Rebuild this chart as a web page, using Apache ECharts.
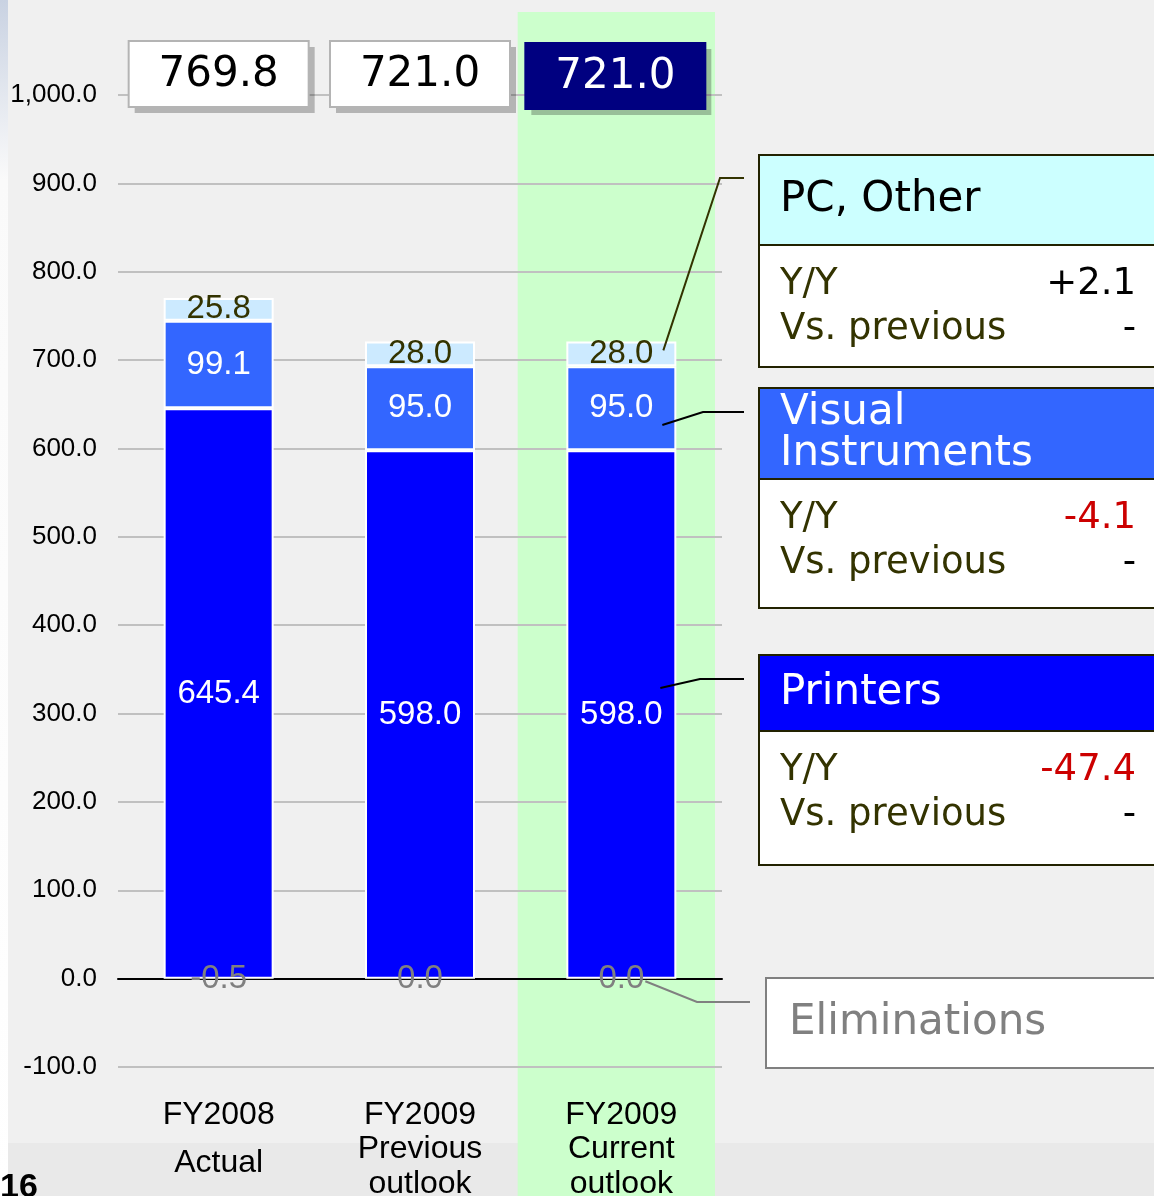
<!DOCTYPE html>
<html lang="en">
<head>
    <meta charset="UTF-8">
    <title>Sales by segment</title>
    <style>
        html, body { margin: 0; padding: 0; background: #f0f0f0; }
    </style>
</head>
<body>
<div id="main" style="width: 1154px;height:1196px;"></div>
<script src="https://cdn.jsdelivr.net/npm/echarts@6/dist/echarts.min.js"></script>
<script>
    // data
    var categories = ['FY2008\nActual', 'FY2009\nPrevious\noutlook', 'FY2009\nCurrent\noutlook'];
    var eliminations = [-0.5, 0.0, 0.0];
    var printers = [645.4, 598.0, 598.0];
    var visual = [99.1, 95.0, 95.0];
    var pcOther = [25.8, 28.0, 28.0];
    var segmentNames = ['PC, Other', 'Visual\nInstruments', 'Printers'];
    var segmentYoY = ['+2.1', '-4.1', '-47.4'];
    var segmentVsPrev = ['-', '-', '-'];

    var totals = categories.map(function (c, i) {
        return (eliminations[i] + printers[i] + visual[i] + pcOther[i]).toFixed(1);
    });

    var myChart = echarts.init(document.getElementById('main'));

    var barLabel = function (color) {
        return {
            show: true,
            position: 'inside',
            color: color,
            fontSize: 33,
            fontFamily: 'Liberation Sans, Arial',
            formatter: function (p) { return p.value.toFixed(1); }
        };
    };

    var catFont = 'Liberation Sans, Arial';

    var option = {
        backgroundColor: '#f0f0f0',
        animation: false,
        grid: { left: 118, right: 432, top: 95, bottom: 129, containLabel: false, outerBoundsMode: 'none' },
        xAxis: {
            type: 'category',
            data: categories,
            axisTick: { show: false },
            axisLine: { onZero: true, lineStyle: { color: '#000', width: 2 } },
            axisLabel: {
                margin: 31,
                interval: 0,
                formatter: function (v) {
                    var lines = v.split('\n');
                    var out = '{a|' + lines[0] + '}';
                    if (lines.length === 2) {
                        out += '\n{c|' + lines[1] + '}';
                    } else {
                        for (var k = 1; k < lines.length; k++) out += '\n{b|' + lines[k] + '}';
                    }
                    return out;
                },
                rich: {
                    a: { fontSize: 32, lineHeight: 34, color: '#000', fontFamily: catFont },
                    b: { fontSize: 32, lineHeight: 35, color: '#000', fontFamily: catFont },
                    c: { fontSize: 32, lineHeight: 62, color: '#000', fontFamily: catFont }
                }
            }
        },
        yAxis: {
            type: 'value',
            min: -100,
            max: 1000,
            interval: 100,
            axisLine: { show: false },
            axisTick: { show: false },
            axisLabel: {
                margin: 21,
                color: '#000',
                fontSize: 26,
                fontFamily: 'Liberation Sans, Arial',
                formatter: function (v) {
                    return v.toLocaleString('en-US', { minimumFractionDigits: 1, maximumFractionDigits: 1 });
                }
            },
            splitLine: { lineStyle: { color: '#c0c0c0', width: 2 } }
        },
        series: [
            {
                name: 'Eliminations',
                type: 'bar',
                stack: 'total',
                barWidth: 110,
                data: eliminations,
                itemStyle: { color: '#000', borderColor: '#000', borderWidth: 1.5 },
                label: barLabel('#808080')
            },
            {
                name: 'Printers',
                type: 'bar',
                stack: 'total',
                data: printers,
                itemStyle: { color: '#0000ff', borderColor: '#fff', borderWidth: 2 },
                label: barLabel('#fff')
            },
            {
                name: 'Visual Instruments',
                type: 'bar',
                stack: 'total',
                data: visual,
                itemStyle: { color: '#3366ff', borderColor: '#fff', borderWidth: 2 },
                label: barLabel('#fff')
            },
            {
                name: 'PC, Other',
                type: 'bar',
                stack: 'total',
                data: pcOther,
                itemStyle: { color: '#cceaff', borderColor: '#fff', borderWidth: 2 },
                label: barLabel('#333300')
            }
        ]
    };

    myChart.setOption(option);

    // positions from the axes
    function px(i) { return myChart.convertToPixel({ xAxisIndex: 0 }, i); }
    function py(v) { return myChart.convertToPixel({ yAxisIndex: 0 }, v); }

    var g = [];
    var x3 = px(2);
    var cat = px(1) - px(0);

    // left strip, footer band and highlight of the current outlook
    g.push({
        type: 'rect', z: -3, shape: { x: 0, y: 0, width: 8, height: 1196 },
        style: { fill: new echarts.graphic.LinearGradient(0, 0, 0, 1, [
            { offset: 0, color: '#c9d2e2' }, { offset: 0.15, color: '#fafafa' }, { offset: 1, color: '#ffffff' }
        ]) }
    });
    g.push({ type: 'rect', z: -3, shape: { x: 8, y: 1143, width: 1146, height: 53 }, style: { fill: '#e9e9e9' } });
    g.push({
        type: 'rect', z: -2,
        shape: { x: x3 - cat / 2 - 3, y: 12, width: cat - 4, height: 1184 },
        style: { fill: '#ccffcc' }
    });
    g.push({
        type: 'text', z: 5, style: { text: '16', x: 0, y: 1188, verticalAlign: 'middle', fill: '#000', font: 'bold 34px "Liberation Sans", Arial' }
    });

    // total boxes
    var yTop = py(1000);
    totals.forEach(function (t, i) {
        var cx = px(i) + (i === 2 ? -6 : 0);
        var dark = i === 2;
        var bx = cx - 90, by = yTop - 54 + (dark ? 2 : 0);
        g.push({ type: 'rect', z: 5, shape: { x: bx + 6, y: by + 6, width: 180, height: 66 }, style: { fill: 'rgba(0,0,0,0.25)' } });
        g.push({
            type: 'rect', z: 6, shape: { x: bx, y: by, width: 180, height: 66 },
            style: { fill: dark ? '#000080' : '#fff', stroke: dark ? '#000080' : '#b4b4b4', lineWidth: 2 }
        });
        g.push({
            type: 'text', z: 7,
            style: { text: t, x: cx, y: by + 34, align: 'center', verticalAlign: 'middle', fill: dark ? '#fff' : '#000', font: '42px "DejaVu Sans", Verdana' }
        });
    });

    // segment panels
    var panelTop = [155, 388, 655];
    var headH = [90, 91, 76];
    var bodyH = [122, 129, 134];
    var headFill = ['#ccffff', '#3366ff', '#0000ff'];
    var headText = ['#000', '#fff', '#fff'];
    segmentNames.forEach(function (name, i) {
        var top = panelTop[i];
        g.push({ type: 'rect', z: 6, shape: { x: 759, y: top, width: 420, height: headH[i] + bodyH[i] },
            style: { fill: '#fff', stroke: '#222200', lineWidth: 2 } });
        g.push({ type: 'rect', z: 6, shape: { x: 759, y: top, width: 420, height: headH[i] },
            style: { fill: headFill[i], stroke: '#222200', lineWidth: 2 } });
        var lines = name.split('\n');
        lines.forEach(function (ln, k) {
            var cy = lines.length === 1 ? top + headH[i] / 2 : top + 25 + k * 41;
            g.push({ type: 'text', z: 7, style: {
                text: ln, x: 780, y: cy, verticalAlign: 'middle', fill: headText[i],
                font: '42px "DejaVu Sans", Verdana',
                textShadowColor: i === 1 ? 'rgba(0,0,0,0.8)' : 'transparent',
                textShadowOffsetX: 2, textShadowOffsetY: 2, textShadowBlur: 0
            } });
        });
        var yy = top + headH[i] + 39;
        var bodyFont = '37px "DejaVu Sans", Verdana';
        g.push({ type: 'text', z: 7, style: { text: 'Y/Y', x: 780, y: yy, verticalAlign: 'middle', fill: '#333300', font: bodyFont } });
        g.push({ type: 'text', z: 7, style: { text: segmentYoY[i], x: 1136, y: yy, align: 'right', verticalAlign: 'middle',
            fill: segmentYoY[i].charAt(0) === '-' ? '#cc0000' : '#000', font: bodyFont } });
        g.push({ type: 'text', z: 7, style: { text: 'Vs. previous', x: 780, y: yy + 45, verticalAlign: 'middle', fill: '#333300', font: bodyFont } });
        g.push({ type: 'text', z: 7, style: { text: segmentVsPrev[i], x: 1136, y: yy + 45, align: 'right', verticalAlign: 'middle', fill: '#000', font: bodyFont } });
    });

    // eliminations box
    g.push({ type: 'rect', z: 6, shape: { x: 766, y: 978, width: 420, height: 90 }, style: { fill: '#fff', stroke: '#808080', lineWidth: 2 } });
    g.push({ type: 'text', z: 7, style: { text: 'Eliminations', x: 789, y: 1023, verticalAlign: 'middle', fill: '#808080', font: '42px "DejaVu Sans", Verdana' } });

    // leader lines
    var stackTop = printers[2] + visual[2] + pcOther[2];
    var leaders = [
        { pts: [[x3 + 42, py(stackTop - 10)], [720, 178], [744, 178]], color: '#333300' },
        { pts: [[x3 + 41, py(printers[2] + visual[2] * 0.3)], [703, 412], [744, 412]], color: '#000' },
        { pts: [[x3 + 39, py(printers[2] * 0.55)], [700, 679], [744, 679]], color: '#000' },
        { pts: [[x3 + 24, py(eliminations[2] - 3)], [697, 1002], [750, 1002]], color: '#808080' }
    ];
    leaders.forEach(function (l) {
        g.push({ type: 'polyline', z: 8, shape: { points: l.pts }, style: { stroke: l.color, lineWidth: 2, fill: null } });
    });

    myChart.setOption({ graphic: g });
</script>
</body>
</html>
